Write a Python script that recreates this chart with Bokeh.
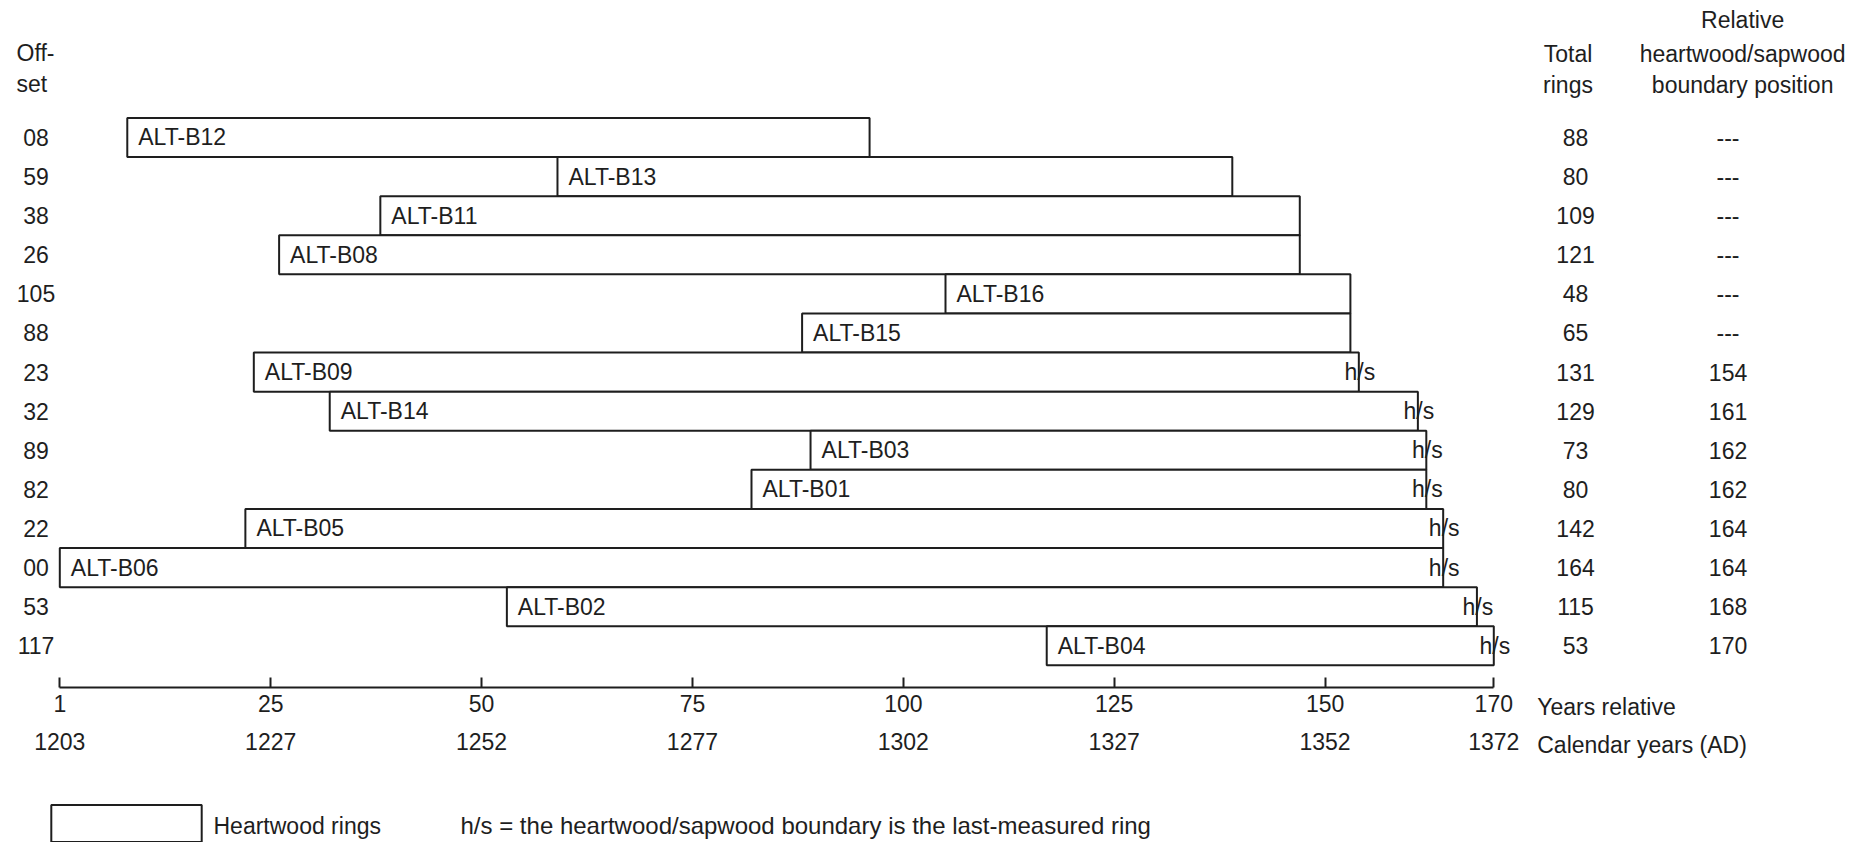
from bokeh.plotting import figure
from bokeh.models import (ColumnDataSource, Range1d, LinearAxis, FixedTicker,
                          Legend, LegendItem, Label)
from bokeh.core.properties import value
from bokeh.embed import file_html
from bokeh.resources import INLINE

# ---------------- data ----------------
samples = ["ALT-B12", "ALT-B13", "ALT-B11", "ALT-B08", "ALT-B16", "ALT-B15", "ALT-B09",
           "ALT-B14", "ALT-B03", "ALT-B01", "ALT-B05", "ALT-B06", "ALT-B02", "ALT-B04"]
offsets = [8, 59, 38, 26, 105, 88, 23, 32, 89, 82, 22, 0, 53, 117]
offset_labels = ["08", "59", "38", "26", "105", "88", "23", "32", "89", "82", "22", "00", "53", "117"]
total_rings = [88, 80, 109, 121, 48, 65, 131, 129, 73, 80, 142, 164, 115, 53]
hs_boundary = [None, None, None, None, None, None, 154, 161, 162, 162, 164, 164, 168, 170]

rel_ticks = [0, 25, 50, 75, 100, 125, 150, 170]
rel_labels = ["1", "25", "50", "75", "100", "125", "150", "170"]
cal_labels = ["1203", "1227", "1252", "1277", "1302", "1327", "1352", "1372"]

# ---------------- layout constants ----------------
FONT = "Liberation Sans"
FS = "23px"
INK = "#1e1e1e"
W, H = 1876, 842

rows = list(range(len(samples)))
ends = [o + t for o, t in zip(offsets, total_rings)]

p = figure(width=W, height=H, output_backend="svg", toolbar_location=None,
           x_range=Range1d(-7.030, 215.37), y_range=Range1d(18.031, -3.5038),
           min_border=0, min_border_left=0, min_border_right=0,
           min_border_top=0, min_border_bottom=0, x_axis_type=None, y_axis_type=None)
p.outline_line_color = None
p.grid.visible = False
p.background_fill_color = "white"
p.border_fill_color = "white"

src = ColumnDataSource(dict(
    left=offsets, right=ends, top=[r - 0.5 for r in rows], bottom=[r + 0.5 for r in rows],
    row=rows, name=samples, off=offset_labels,
    tot=[str(t) for t in total_rings],
    bnd=["---" if b is None else str(b) for b in hs_boundary],
))

bars = p.quad(left="left", right="right", top="top", bottom="bottom", source=src,
              fill_color="white", line_color=INK, line_width=2)

p.text(x="left", y="row", text="name", source=src, x_offset=11,
       text_font=value(FONT), text_font_size=FS, text_color=INK,
       text_align="left", text_baseline="middle")

# h/s markers at the heartwood/sapwood boundary
hs_rows = [r for r, b in zip(rows, hs_boundary) if b is not None]
hs_x = [b for b in hs_boundary if b is not None]
p.text(x=hs_x, y=hs_rows, text=["h/s"] * len(hs_x), x_offset=1,
       text_font=value(FONT), text_font_size=FS, text_color=INK,
       text_align="center", text_baseline="middle")

# side columns
p.text(x=-2.82, y="row", text="off", source=src, text_font=value(FONT), text_font_size=FS,
       text_color=INK, text_align="center", text_baseline="middle")
p.text(x=179.69, y="row", text="tot", source=src, text_font=value(FONT), text_font_size=FS,
       text_color=INK, text_align="center", text_baseline="middle")
p.text(x=197.77, y="row", text="bnd", source=src, text_font=value(FONT), text_font_size=FS,
       text_color=INK, text_align="center", text_baseline="middle")

# headers
p.text(x=[-5.13, -5.13], y=[-2.16, -1.36], text=["Off-", "set"],
       text_font=value(FONT), text_font_size=FS, text_color=INK,
       text_align="left", text_baseline="middle")
p.text(x=[178.8, 178.8], y=[-2.148, -1.33], text=["Total", "rings"],
       text_font=value(FONT), text_font_size=FS, text_color=INK,
       text_align="center", text_baseline="middle")
p.text(x=[199.5, 199.5, 199.5], y=[-3.0, -2.148, -1.33],
       text=["Relative", "heartwood/sapwood", "boundary position"],
       text_font=value(FONT), text_font_size=FS, text_color=INK,
       text_align="center", text_baseline="middle")

# axis titles at the right end of the axes
p.text(x=[175.15, 175.15], y=[14.563, 15.55], text=["Years relative", "Calendar years (AD)"],
       text_font=value(FONT), text_font_size=FS, text_color=INK,
       text_align="left", text_baseline="middle")

# ---------------- axes ----------------
AXIS_Y = 14.059
rel_axis = LinearAxis(fixed_location=AXIS_Y, ticker=FixedTicker(ticks=rel_ticks),
                      major_label_overrides={t: l for t, l in zip(rel_ticks, rel_labels)},
                      bounds=(0, 170), major_tick_in=10, major_tick_out=0,
                      minor_tick_in=0, minor_tick_out=0, major_label_standoff=8,
                      axis_line_color=INK, axis_line_width=2, major_tick_line_color=INK,
                      major_tick_line_width=2,
                      major_label_text_font=FONT, major_label_text_font_size=FS,
                      major_label_text_color=INK)
cal_axis = LinearAxis(fixed_location=AXIS_Y, ticker=FixedTicker(ticks=rel_ticks),
                      major_label_overrides={t: l for t, l in zip(rel_ticks, cal_labels)},
                      bounds=(0, 170), major_tick_in=0, major_tick_out=0,
                      minor_tick_in=0, minor_tick_out=0, major_label_standoff=46,
                      axis_line_color=None, major_tick_line_color=None,
                      major_label_text_font=FONT, major_label_text_font_size=FS,
                      major_label_text_color=INK)
p.add_layout(rel_axis, "below")
p.add_layout(cal_axis, "below")

# ---------------- legend ----------------
# Bokeh insets area glyphs by 10% of the glyph box on each side
legend = Legend(items=[LegendItem(label=" ", renderers=[bars])],
                location=(32, -3.6), glyph_width=188, glyph_height=46, label_standoff=0,
                padding=0, margin=0, spacing=0, border_line_alpha=0, background_fill_alpha=0,
                label_text_font=FONT, label_text_font_size=FS, label_text_color=INK,
                label_height=46)
p.add_layout(legend, "center")

p.add_layout(Label(x=213, y=17, x_units="screen", y_units="screen",
                   text="Heartwood rings",
                   text_font=FONT, text_font_size=FS, text_color=INK,
                   text_baseline="middle", text_align="left"))
p.add_layout(Label(x=460, y=17, x_units="screen", y_units="screen",
                   text="h/s = the heartwood/sapwood boundary is the last-measured ring",
                   text_font=FONT, text_font_size="24px", text_color=INK,
                   text_baseline="middle", text_align="left"))

open("out.html", "w").write(file_html(p, INLINE))
